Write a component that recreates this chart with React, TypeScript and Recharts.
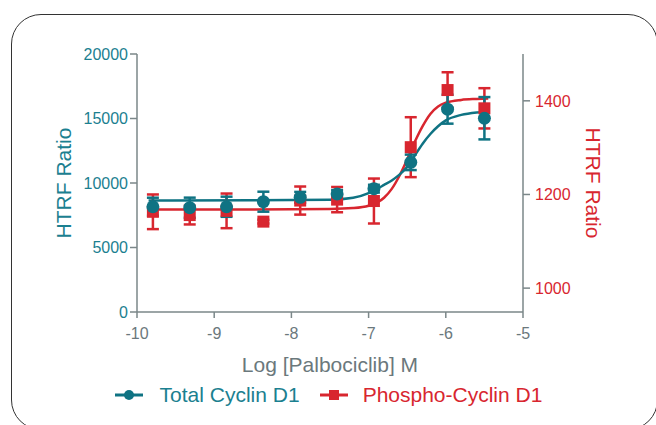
import {
  ComposedChart,
  ErrorBar,
  Legend,
  Line,
  Scatter,
  XAxis,
  YAxis,
} from 'recharts';

// log10 concentrations (3-fold dilution series)
const LOG_CONC = [-9.794, -9.317, -8.84, -8.363, -7.886, -7.408, -6.931, -6.454, -5.977, -5.5];
const TOTAL_MEAN = [8160, 8085, 8160, 8550, 8890, 9150, 9560, 11600, 15720, 15020];
const TOTAL_ERR = [700, 780, 780, 775, 420, 300, 300, 600, 1120, 1640];
const PHOSPHO_MEAN = [1163, 1156, 1165, 1142, 1187, 1189, 1186, 1301, 1423, 1384];
const PHOSPHO_ERR = [37, 20, 37, 4, 30, 27, 48, 64, 38, 43];

// fitted curves
const FIT_LOG = [-9.85, -8.5, -7.5, -7.2, -7.0, -6.8, -6.7, -6.6, -6.5, -6.4, -6.3, -6.2, -6.1, -6.0, -5.8, -5.6, -5.45];
const TOTAL_FIT = [8650, 8660, 8700, 8850, 9220, 9850, 10200, 10650, 11250, 12150, 13050, 13800, 14400, 14850, 15280, 15470, 15530];
const PHOSPHO_FIT = [1168, 1168, 1169, 1171, 1176, 1193, 1212, 1240, 1275, 1313, 1346, 1372, 1388, 1396, 1402, 1404, 1405];

const X_TICKS = [-10, -9, -8, -7, -6, -5];
const LEFT_TICKS = [0, 5000, 10000, 15000, 20000];
const RIGHT_TICKS = [1000, 1200, 1400];

const TEAL = '#0f7383';
const TEAL_TEXT = '#1b8090';
const RED = '#d8262f';
const AXIS = '#7b8789';
const GRAY_TEXT = '#6b787c';
const FONT = '"Liberation Sans", Arial, sans-serif';

const totalPoints = LOG_CONC.map((x, i) => ({ x, y: TOTAL_MEAN[i], err: TOTAL_ERR[i] }));
const phosphoPoints = LOG_CONC.map((x, i) => ({ x, y: PHOSPHO_MEAN[i], err: PHOSPHO_ERR[i] }));
const totalFit = FIT_LOG.map((x, i) => ({ x, y: TOTAL_FIT[i] }));
const phosphoFit = FIT_LOG.map((x, i) => ({ x, y: PHOSPHO_FIT[i] }));

const CircleDot = (props: any) => <circle cx={props.cx} cy={props.cy} r={6.5} fill={TEAL} />;
const SquareDot = (props: any) => (
  <rect x={props.cx - 6} y={props.cy - 6} width={12} height={12} fill={RED} />
);

function LegendContent() {
  return (
    <div style={{ display: 'flex', justifyContent: 'center', alignItems: 'center', height: 30, fontSize: 21, fontFamily: FONT }}>
      <svg width={30} height={12} style={{ marginRight: 16 }}>
        <line x1={1} y1={6} x2={29} y2={6} stroke={TEAL} strokeWidth={3} />
        <circle cx={15} cy={6} r={5} fill={TEAL} />
      </svg>
      <span style={{ color: TEAL_TEXT, marginRight: 19 }}>Total Cyclin D1</span>
      <svg width={30} height={12} style={{ marginRight: 14 }}>
        <line x1={1} y1={6} x2={29} y2={6} stroke={RED} strokeWidth={3} />
        <rect x={10} y={1} width={10} height={10} fill={RED} />
      </svg>
      <span style={{ color: RED }}>Phospho-Cyclin D1</span>
    </div>
  );
}

export default function App() {
  return (
    <div style={{ position: 'fixed', left: 0, top: 0, width: 656, height: 425, background: '#fff', fontFamily: FONT, overflow: 'hidden' }}>
      <div
        style={{
          position: 'absolute',
          left: 11,
          top: 14,
          width: 645,
          height: 414,
          border: '1.5px solid #333',
          borderRadius: 30,
        }}
      />
      <ComposedChart width={656} height={425} margin={{ top: 54, right: 0, bottom: 23, left: 0 }}>
        <XAxis
          dataKey="x"
          type="number"
          domain={[-10, -5]}
          ticks={X_TICKS}
          allowDataOverflow
          height={60}
          tickSize={6}
          tickMargin={10}
          tick={{ fill: GRAY_TEXT, fontSize: 16 }}
          axisLine={{ stroke: AXIS, strokeWidth: 1.5 }}
          tickLine={{ stroke: AXIS, strokeWidth: 1.5 }}
          label={{ value: 'Log [Palbociclib] M', position: 'insideBottom', offset: 0, fill: GRAY_TEXT, fontSize: 21 }}
        />
        <YAxis
          yAxisId="left"
          orientation="left"
          domain={[0, 20000]}
          ticks={LEFT_TICKS}
          width={137}
          tickSize={7}
          tickMargin={2}
          tick={{ fill: TEAL_TEXT, fontSize: 16 }}
          axisLine={{ stroke: AXIS, strokeWidth: 1.5 }}
          tickLine={{ stroke: AXIS, strokeWidth: 1.5 }}
          label={{ value: 'HTRF Ratio', angle: -90, position: 'insideLeft', offset: 64, fill: TEAL_TEXT, fontSize: 21, style: { textAnchor: 'middle' } }}
        />
        <YAxis
          yAxisId="right"
          orientation="right"
          domain={[949, 1500]}
          ticks={RIGHT_TICKS}
          width={133}
          tickSize={7}
          tickMargin={5}
          tick={{ fill: RED, fontSize: 16 }}
          axisLine={{ stroke: AXIS, strokeWidth: 1.5 }}
          tickLine={{ stroke: AXIS, strokeWidth: 1.5 }}
          label={{ value: 'HTRF Ratio', angle: 90, position: 'insideRight', offset: 63, fill: RED, fontSize: 21, style: { textAnchor: 'middle' } }}
        />
        <Legend verticalAlign="bottom" content={LegendContent} wrapperStyle={{ top: 380, left: 0, width: 656 }} />
        <Line yAxisId="right" data={phosphoFit} dataKey="y" type="monotone" stroke={RED} strokeWidth={2.5} dot={false} isAnimationActive={false} legendType="none" />
        <Line yAxisId="left" data={totalFit} dataKey="y" type="monotone" stroke={TEAL} strokeWidth={2.5} dot={false} isAnimationActive={false} legendType="none" />
        <Scatter yAxisId="right" data={phosphoPoints} dataKey="y" shape={SquareDot} isAnimationActive={false}>
          <ErrorBar dataKey="err" direction="y" width={6} strokeWidth={2.5} stroke={RED} />
        </Scatter>
        <Scatter yAxisId="left" data={totalPoints} dataKey="y" shape={CircleDot} isAnimationActive={false}>
          <ErrorBar dataKey="err" direction="y" width={6} strokeWidth={2.5} stroke={TEAL} />
        </Scatter>
      </ComposedChart>
    </div>
  );
}
